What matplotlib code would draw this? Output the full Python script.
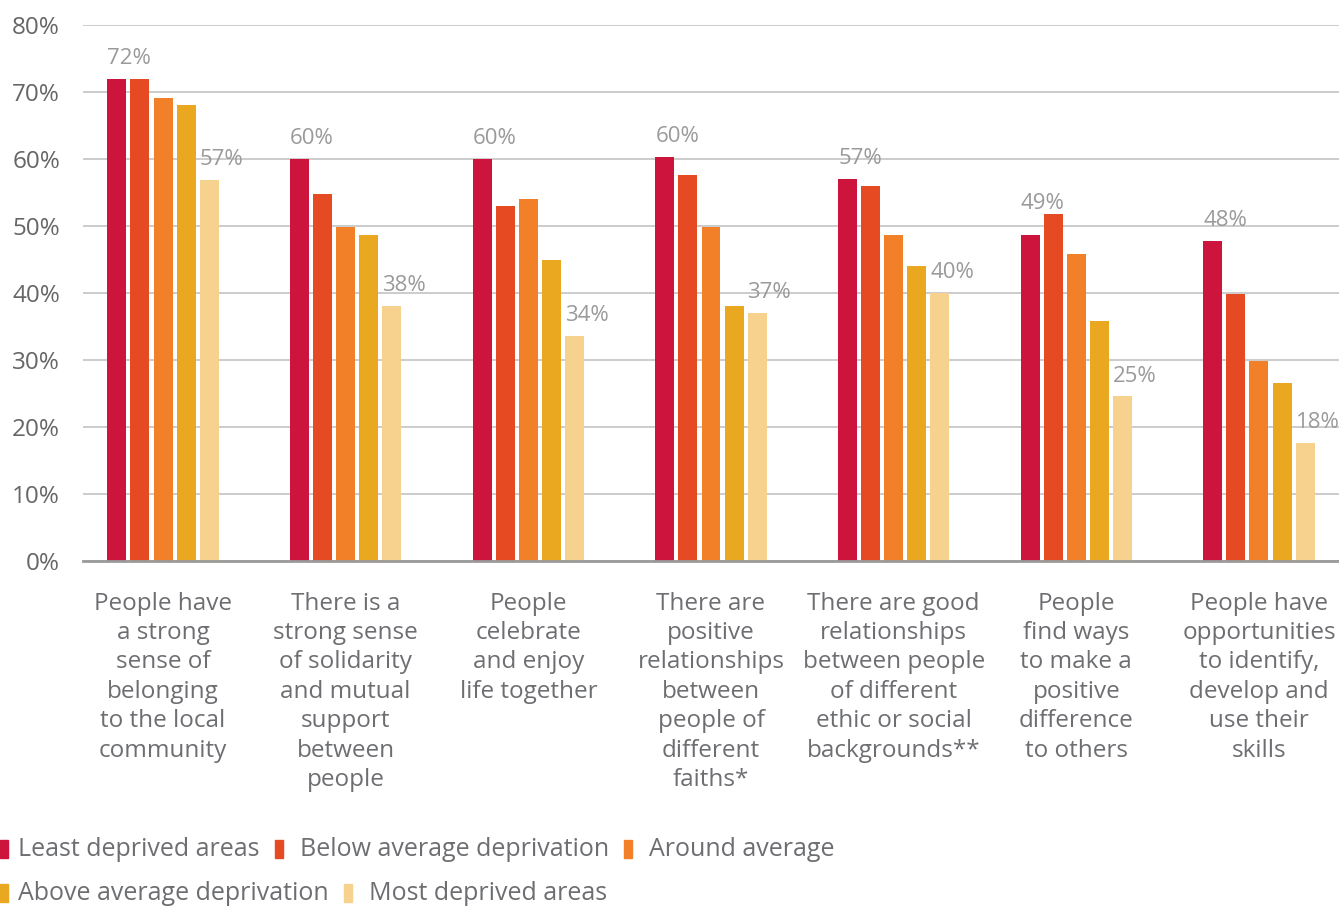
import matplotlib
matplotlib.use("Agg")
import matplotlib.pyplot as plt
from matplotlib.patches import Rectangle
import numpy as np

categories = [
    "People have\na strong\nsense of\nbelonging\nto the local\ncommunity",
    "There is a\nstrong sense\nof solidarity\nand mutual\nsupport\nbetween\npeople",
    "People\ncelebrate\nand enjoy\nlife together",
    "There are\npositive\nrelationships\nbetween\npeople of\ndifferent\nfaiths*",
    "There are good\nrelationships\nbetween people\nof different\nethic or social\nbackgrounds**",
    "People\nfind ways\nto make a\npositive\ndifference\nto others",
    "People have\nopportunities\nto identify,\ndevelop and\nuse their\nskills",
]
series_names = ["Least deprived areas", "Below average deprivation", "Around average",
                "Above average deprivation", "Most deprived areas"]
least = [72, 60, 60, 60.3, 57, 48.7, 47.8]
below = [72, 54.8, 53, 57.6, 56, 51.8, 39.9]
around = [69.1, 49.9, 54, 49.9, 48.7, 45.8, 29.9]
above = [68.1, 48.7, 45, 38.1, 44, 35.8, 26.6]
most = [56.9, 38.1, 33.6, 37, 40, 24.6, 17.6]
first_labels = ["72%", "60%", "60%", "60%", "57%", "49%", "48%"]
last_labels = ["57%", "38%", "34%", "37%", "40%", "25%", "18%"]
yticks = [0, 10, 20, 30, 40, 50, 60, 70, 80]

colors = ["#CC143C", "#E64A22", "#F28029", "#EAA820", "#F6D28E"]
series = [least, below, around, above, most]

FONT = "Open Sans"
plt.rcParams["font.family"] = [FONT, "DejaVu Sans"]
W, H = 1339, 907
fig = plt.figure(figsize=(W / 100, H / 100), dpi=100)
ax = fig.add_axes([83 / W, (H - 561) / H, 1 - 83 / W, (561 - 25) / H])

x = np.arange(len(categories))
step = 0.126
width = 0.104
for i, (vals, c) in enumerate(zip(series, colors)):
    ax.bar(x + (i - 2) * step, vals, width=width, color=c, zorder=3)

label_color = "#9a9a9a"
for j in range(len(categories)):
    x0 = x[j] - 2 * step - width / 2
    v0, v1 = least[j], below[j]
    ytop = v1 + 1.6 if v1 > v0 + 1 else v0 + 3.0
    ax.text(x0, ytop, first_labels[j], ha="left", va="center", fontsize=16,
            color=label_color, zorder=4)
    x4 = x[j] + 2 * step - width / 2
    ax.text(x4, most[j] + 3.0, last_labels[j], ha="left", va="center", fontsize=16,
            color=label_color, zorder=4)

ax.set_xlim(-0.438, len(categories) - 1 + 0.438)
ax.set_ylim(0, 80)
ax.set_yticks(yticks)
ax.set_yticklabels([f"{t}%" for t in yticks])
ax.tick_params(axis="y", length=0, labelsize=17.5, labelcolor="#666666", pad=16.5)
ax.tick_params(axis="x", length=0)
ax.set_xticks([])
ax.grid(axis="y", color="#c4c4c4", linewidth=1.2, zorder=0)
for s in ["top", "right", "left"]:
    ax.spines[s].set_visible(False)
ax.spines["bottom"].set_color("#9a9a9a")
ax.spines["bottom"].set_linewidth(2)
ax.spines["bottom"].set_zorder(5)

text_color = "#6d6e71"
for j, cat in enumerate(categories):
    ax.annotate(cat, xy=(x[j], 0), xycoords="data", xytext=(0, -22),
                textcoords="offset points", ha="center", va="top", fontsize=17.5,
                color=text_color, linespacing=1.3)

# legend (flow layout)
fig.canvas.draw()
renderer = fig.canvas.get_renderer()
rows = [[0, 1, 2], [3, 4]]
row_y = [849, 893]
for r, idxs in enumerate(rows):
    xp = 0
    yc = row_y[r]
    for n, k in enumerate(idxs):
        fig.patches.append(Rectangle((xp / W, (H - yc - 9) / H), 8 / W, 18 / H,
                                     transform=fig.transFigure, color=colors[k],
                                     figure=fig))
        tx = xp + (18 if n == 0 else 25)
        t = fig.text(tx / W, (H - yc) / H, series_names[k], ha="left",
                     va="center", fontsize=18, color=text_color)
        bb = t.get_window_extent(renderer)
        xp = bb.x1 + 15

fig.savefig("out.png", dpi=100)
